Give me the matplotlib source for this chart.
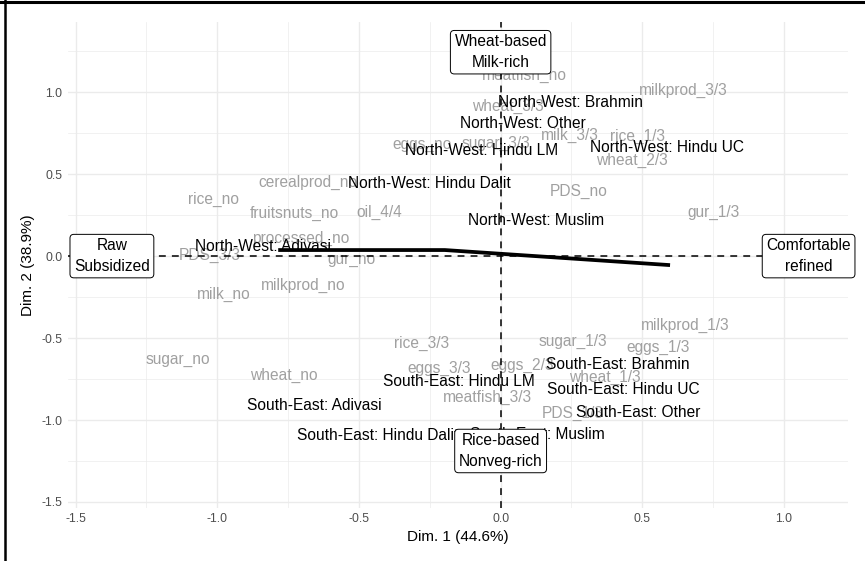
import matplotlib.pyplot as plt
from matplotlib.lines import Line2D
from matplotlib.ticker import FormatStrFormatter, MultipleLocator

plt.rcParams['font.family'] = ['Liberation Sans', 'DejaVu Sans']
plt.rcParams['axes.unicode_minus'] = False

# food categories (grey labels)
cat_labels = ['cerealprod_no', 'rice_no', 'fruitsnuts_no', 'oil_4/4', 'processed_no',
              'PDS_3/3', 'gur_no', 'milk_no', 'milkprod_no', 'sugar_no', 'wheat_no',
              'eggs_no', 'sugar_3/3', 'wheat_3/3', 'meatfish_no', 'milkprod_3/3',
              'milk_3/3', 'rice_1/3', 'wheat_2/3', 'PDS_no', 'gur_1/3', 'rice_3/3',
              'eggs_3/3', 'meatfish_3/3', 'sugar_1/3', 'milkprod_1/3', 'eggs_1/3',
              'eggs_2/3', 'wheat_1/3', 'PDS_1/3']
cat_x = [-0.680, -1.013, -0.729, -0.427, -0.706, -1.027, -0.526, -0.977, -0.695, -1.138,
         -0.764, -0.279, -0.018, 0.025, 0.083, 0.643, 0.246, 0.483, 0.465, 0.275, 0.753,
         -0.280, -0.217, -0.048, 0.255, 0.650, 0.556, 0.077, 0.368, 0.256]
cat_y = [0.447, 0.348, 0.261, 0.267, 0.108, 0.006, -0.018, -0.234, -0.177, -0.629,
         -0.726, 0.678, 0.688, 0.911, 1.105, 1.013, 0.739, 0.728, 0.586, 0.393, 0.265,
         -0.533, -0.686, -0.865, -0.523, -0.421, -0.560, -0.665, -0.741, -0.960]

# region x caste groups (black labels)
grp_labels = ['North-West: Brahmin', 'North-West: Other', 'North-West: Hindu LM',
              'North-West: Hindu UC', 'North-West: Hindu Dalit', 'North-West: Muslim',
              'North-West: Adivasi', 'South-East: Adivasi', 'South-East: Hindu Dalit',
              'South-East: Hindu LM', 'South-East: Muslim', 'South-East: Brahmin',
              'South-East: Hindu UC', 'South-East: Other']
grp_x = [0.247, 0.077, -0.066, 0.586, -0.250, 0.125, -0.840,
         -0.657, -0.434, -0.147, 0.131, 0.414, 0.432, 0.485]
grp_y = [0.936, 0.806, 0.643, 0.663, 0.440, 0.216, 0.057,
         -0.914, -1.093, -0.767, -1.087, -0.659, -0.814, -0.957]

# axis poles
pole_labels = ['Wheat-based\nMilk-rich', 'Rice-based\nNonveg-rich',
               'Raw\nSubsidized', 'Comfortable\nrefined']
pole_x = [0.0, 0.0, -1.372, 1.087]
pole_y = [1.244, -1.189, 0.0, 0.0]

# trend line
trend_x = [-0.785, -0.197, 0.598]
trend_y = [0.037, 0.037, -0.055]

fig = plt.figure(figsize=(8.65, 5.61), dpi=100)
ax = fig.add_axes([0.0786, 0.0950, 0.9014, 0.8663])

ax.set_xlim(-1.527, 1.225)
ax.set_ylim(-1.535, 1.43)

ax.xaxis.set_major_locator(MultipleLocator(0.5))
ax.yaxis.set_major_locator(MultipleLocator(0.5))
ax.xaxis.set_minor_locator(MultipleLocator(0.25))
ax.yaxis.set_minor_locator(MultipleLocator(0.25))
ax.xaxis.set_major_formatter(FormatStrFormatter('%.1f'))
ax.yaxis.set_major_formatter(FormatStrFormatter('%.1f'))
ax.grid(which='major', color='#ebebeb', lw=1.0)
ax.grid(which='minor', color='#ebebeb', lw=0.5)
ax.set_axisbelow(True)
ax.tick_params(which='both', length=0, labelsize=8.8, labelcolor='#4d4d4d', pad=4)
for s in ax.spines.values():
    s.set_visible(False)

ax.axhline(0, color='black', lw=1.1, ls=(0, (4.5, 4)), zorder=3)
ax.axvline(0, color='black', lw=1.1, ls=(0, (4.5, 4)), zorder=3)

for lab, x, y in zip(cat_labels, cat_x, cat_y):
    ax.text(x, y, lab, color='#a0a0a0', fontsize=11.2, ha='center', va='center', zorder=2)

for lab, x, y in zip(grp_labels, grp_x, grp_y):
    ax.text(x, y, lab, color='black', fontsize=11.2, ha='center', va='center', zorder=4)

ax.plot(trend_x, trend_y, color='black', lw=2.7, solid_capstyle='butt', zorder=5)

for lab, x, y in zip(pole_labels, pole_x, pole_y):
    ax.text(x, y, lab, color='black', fontsize=11.2, ha='center', va='center',
            linespacing=1.45, zorder=6,
            bbox=dict(boxstyle='round,pad=0.26,rounding_size=0.25', fc='white',
                      ec='black', lw=0.7))

ax.set_xlabel('Dim. 1 (44.6%)', fontsize=11)
ax.set_ylabel('Dim. 2 (38.9%)', fontsize=11)
ax.xaxis.set_label_coords(0.5, -0.0603)
ax.yaxis.set_label_coords(-0.0513, 0.5)
ax.xaxis.label.set_va('center')
ax.yaxis.label.set_va('center')

# frame edges of the screenshot
fig.add_artist(Line2D([0, 1], [1 - 1.5 / 561, 1 - 1.5 / 561], color='black', lw=2.2))
fig.add_artist(Line2D([5 / 865, 5 / 865], [0, 1], color='black', lw=1.8))

fig.savefig('out.png', dpi=100)
